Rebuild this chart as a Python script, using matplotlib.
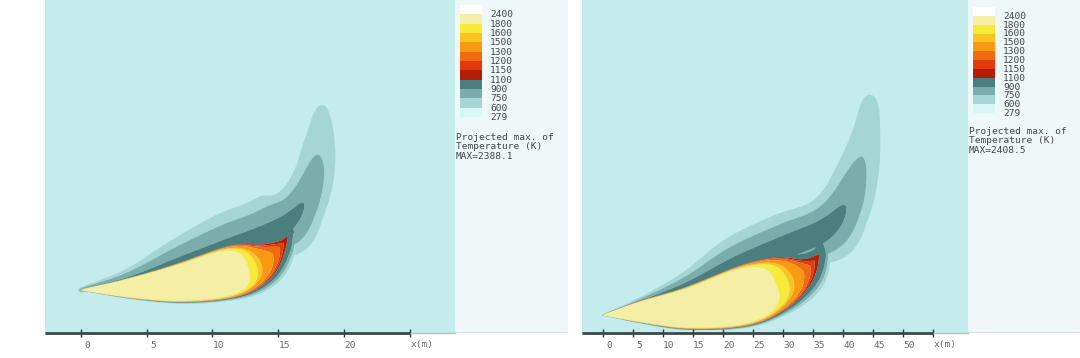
import numpy as np
import matplotlib
matplotlib.use('Agg')
import matplotlib.pyplot as plt
from matplotlib.transforms import ScaledTranslation

# temperature bands (K), lower bound of each legend block, and their colours
levels = [279, 600, 750, 900, 1100, 1150, 1200, 1300, 1500, 1600, 1800, 2400]
band_colors = ['#d8f7f7', '#a6d5d5', '#7badad', '#4b7e7e', '#b41c03', '#e23a0c',
               '#f26a0e', '#f99b12', '#fcc41e', '#f7ea3a', '#f5efa6', '#ffffff']
t_ambient = 279

# left case: hot core centreline (m), half width (m), peak temperature (K), edge softness
hot_l_x = [0.0, 3.73, 7.53, 11.11, 13.62, 15.14, 15.95]
hot_l_y = [3.27, 3.42, 3.81, 4.57, 5.40, 6.55, 7.70]
hot_l_hw = [0.03, 0.76, 1.45, 1.90, 1.75, 1.14, 0.40]
hot_l_t = [2300, 2385, 2385, 2200, 1520, 1230, 1100]
hot_l_k = [0.06, 0.06, 0.06, 0.08, 0.2, 0.3, 0.3]
# left case: warm plume centreline, widths above / below, temperature
warm_l_x = [0.0, 3.73, 7.53, 11.11, 13.62, 15.53, 16.82, 17.73, 18.19, 18.34, 18.34]
warm_l_y = [3.27, 4.03, 5.18, 6.32, 7.23, 8.22, 9.74, 12.02, 14.69, 17.35, 18.87]
warm_l_wup = [0.23, 1.07, 2.36, 3.27, 3.35, 3.35, 2.44, 2.13, 2.21, 1.90, 1.52]
warm_l_wdn = [0.23, 0.76, 1.52, 1.52, 1.90, 2.89, 2.28, 2.13, 2.13, 1.90, 1.52]
warm_l_t = [930, 940, 940, 940, 940, 930, 905, 820, 700, 600, 450]

# right case
hot_r_x = [0.0, 6.17, 14.5, 22.83, 28.33, 33.33, 35.83, 36.3]
hot_r_y = [3.0, 3.5, 4.17, 6.0, 8.0, 10.33, 12.9, 15.2]
hot_r_hw = [0.05, 1.75, 3.5, 4.83, 4.67, 3.67, 2.0, 0.5]
hot_r_t = [2300, 2390, 2390, 2300, 1850, 1320, 1140, 1080]
hot_r_k = [0.06, 0.06, 0.06, 0.06, 0.12, 0.25, 0.3, 0.3]
warm_r_x = [0.0, 6.17, 14.5, 22.83, 31.17, 37.0, 40.33, 42.5, 43.83, 44.5, 44.67]
warm_r_y = [3.0, 5.0, 7.5, 10.83, 14.17, 17.5, 21.33, 27.17, 33.0, 38.83, 42.17]
warm_r_wup = [0.17, 1.0, 3.33, 6.17, 6.83, 5.83, 5.5, 5.17, 4.83, 4.67, 4.0]
warm_r_wdn = [0.17, 1.0, 2.0, 4.17, 4.17, 6.83, 5.5, 5.17, 4.83, 4.67, 4.0]
warm_r_t = [950, 970, 980, 980, 980, 950, 900, 790, 690, 620, 520]

ticks_l = [0, 5, 10, 15, 20, 25]
ticks_r = [0, 5, 10, 15, 20, 25, 30, 35, 40, 45, 50, 55]
max_l = 2388.1
max_r = 2408.5

M = 40  # samples per centreline segment


def catmull(*cols):
    # smooth Catmull-Rom pass through the station values, M samples per segment
    P = np.column_stack(cols).astype(float)
    P = np.vstack([2 * P[0] - P[1], P, 2 * P[-1] - P[-2]])
    t = np.linspace(0, 1, M, endpoint=False)[:, None]
    out = []
    for i in range(1, len(P) - 2):
        p0, p1, p2, p3 = P[i - 1], P[i], P[i + 1], P[i + 2]
        out.append(0.5 * (2 * p1 + (-p0 + p2) * t + (2 * p0 - 5 * p1 + 4 * p2 - p3) * t ** 2
                          + (-p0 + 3 * p1 - 3 * p2 + p3) * t ** 3))
    out.append(P[-2][None, :])
    return np.vstack(out)


def curvilinear(G, C):
    T = np.gradient(C, axis=0)
    T /= np.linalg.norm(T, axis=1)[:, None]
    N = np.column_stack([-T[:, 1], T[:, 0]])
    js = np.empty(len(G), dtype=int)
    ns = np.empty(len(G))
    for a in range(0, len(G), 4000):
        g = G[a:a + 4000]
        d2 = ((g[:, None, :] - C[None, :, :]) ** 2).sum(-1)
        j = d2.argmin(1)
        n = ((g - C[j]) * N[j]).sum(1)
        ends = (j == 0) | (j == len(C) - 1)
        dist = np.sqrt(d2[np.arange(len(g)), j])
        js[a:a + 4000] = j
        ns[a:a + 4000] = np.where(ends, np.sign(n + 1e-9) * dist, n)
    return js, ns


def field(X, Y, hot, warm):
    G = np.column_stack([X.ravel(), Y.ravel()])
    S = catmull(*hot)
    j, n = curvilinear(G, S[:, :2])
    hw = np.maximum(S[j, 2], 0.02)
    tp = np.minimum(S[j, 3], 2399)
    k = S[j, 4]
    r = np.abs(n) / hw
    t_hot = t_ambient + (tp - t_ambient) / (1 + np.exp(np.clip((r - 1) / k, -50, 50)))
    S = catmull(*warm)
    j, n = curvilinear(G, S[:, :2])
    w = np.maximum(np.where(n > 0, S[j, 2], S[j, 3]), 0.02)
    t_warm = t_ambient + (S[j, 4] - t_ambient) * np.exp(-(n / w) ** 2)
    return np.maximum(t_hot, t_warm).reshape(X.shape)


fig = plt.figure(figsize=(10.8, 3.58), dpi=100)
W, H = 1080, 358
bg = '#c4ecec'
mono = 'DejaVu Sans Mono'


def panel(x0, x1, xlim, ylim, hot, warm, ticks, tmax, leg_w, leg_top, leg_h, text_y):
    ax = fig.add_axes([x0 / W, 25 / H, (x1 - x0) / W, 333 / H])
    ax.set_facecolor(bg)
    xs = np.linspace(-1.5, xlim[1] * 0.8, 520)
    ys = np.linspace(0.5, ylim[1] * 0.8, 440)
    X, Y = np.meshgrid(xs, ys)
    Z = field(X, Y, hot, warm)
    ax.contourf(X, Y, Z, levels=levels[1:] + [3000], colors=band_colors[1:], antialiased=True)
    ax.set_xlim(*xlim)
    ax.set_ylim(*ylim)
    for s in ax.spines.values():
        s.set_visible(False)
    ax.axhline(0, color='#b8c4c4', lw=1, clip_on=False)
    ax.plot([xlim[0], ticks[-1]], [0, 0], color='#3c4848', lw=2, clip_on=False, solid_capstyle='butt')
    ax.set_yticks([])
    ax.set_xticks(ticks)
    ax.set_xticklabels([str(t) for t in ticks[:-1]] + [''])
    ax.tick_params(axis='x', direction='inout', length=6, width=1, color='#2c3838',
                   labelsize=6.8, labelcolor='#666666', pad=3)
    for lab in ax.get_xticklabels():
        lab.set_fontfamily(mono)
        lab.set_transform(lab.get_transform() + ScaledTranslation(0.06, 0, fig.dpi_scale_trans))
    ax.annotate('x(m)', (ticks[-1], 0), xytext=(1, -11), textcoords='offset pixels',
                ha='left', va='center', fontsize=6.8, color='#666666', family=mono)

    lg = fig.add_axes([x1 / W, 25 / H, leg_w / W, 333 / H])
    lg.set_facecolor('#eef8f9')
    lg.set_xlim(0, leg_w)
    lg.set_ylim(333, 0)
    lg.set_xticks([])
    lg.set_yticks([])
    for s in lg.spines.values():
        s.set_visible(False)
    lg.axhline(333, color='#d4e2e4', lw=1.5)
    k = len(levels)
    h = leg_h / k
    col = [band_colors[k - 1 - i] for i in range(k)]
    tops = [leg_top + i * h for i in range(k)]
    lg.bar([16] * k, [h] * k, width=22, bottom=tops, color=col, align='center')
    for i in range(k):
        lg.text(35, tops[i] + h + 0.5, str(levels[k - 1 - i]), fontsize=6.8, family=mono,
                color='#444444', va='center', ha='left')
    lines = ['Projected max. of', 'Temperature (K)', 'MAX=%.1f' % tmax]
    for i, s in enumerate(lines):
        lg.text(1, text_y + i * 9.6, s, fontsize=6.8, family=mono, color='#444444',
                va='center', ha='left')
    return ax


panel(45, 455, (-2.74, 28.46), (0, 25.34),
      (hot_l_x, hot_l_y, hot_l_hw, hot_l_t, hot_l_k),
      (warm_l_x, warm_l_y, warm_l_wup, warm_l_wdn, warm_l_t),
      ticks_l, max_l, 113, 5, 112, 137)
panel(582, 968, (-3.5, 60.83), (0, 55.5),
      (hot_r_x, hot_r_y, hot_r_hw, hot_r_t, hot_r_k),
      (warm_r_x, warm_r_y, warm_r_wup, warm_r_wdn, warm_r_t),
      ticks_r, max_r, 112, 7, 106, 131)

fig.savefig('out.png', dpi=100, facecolor='white')
